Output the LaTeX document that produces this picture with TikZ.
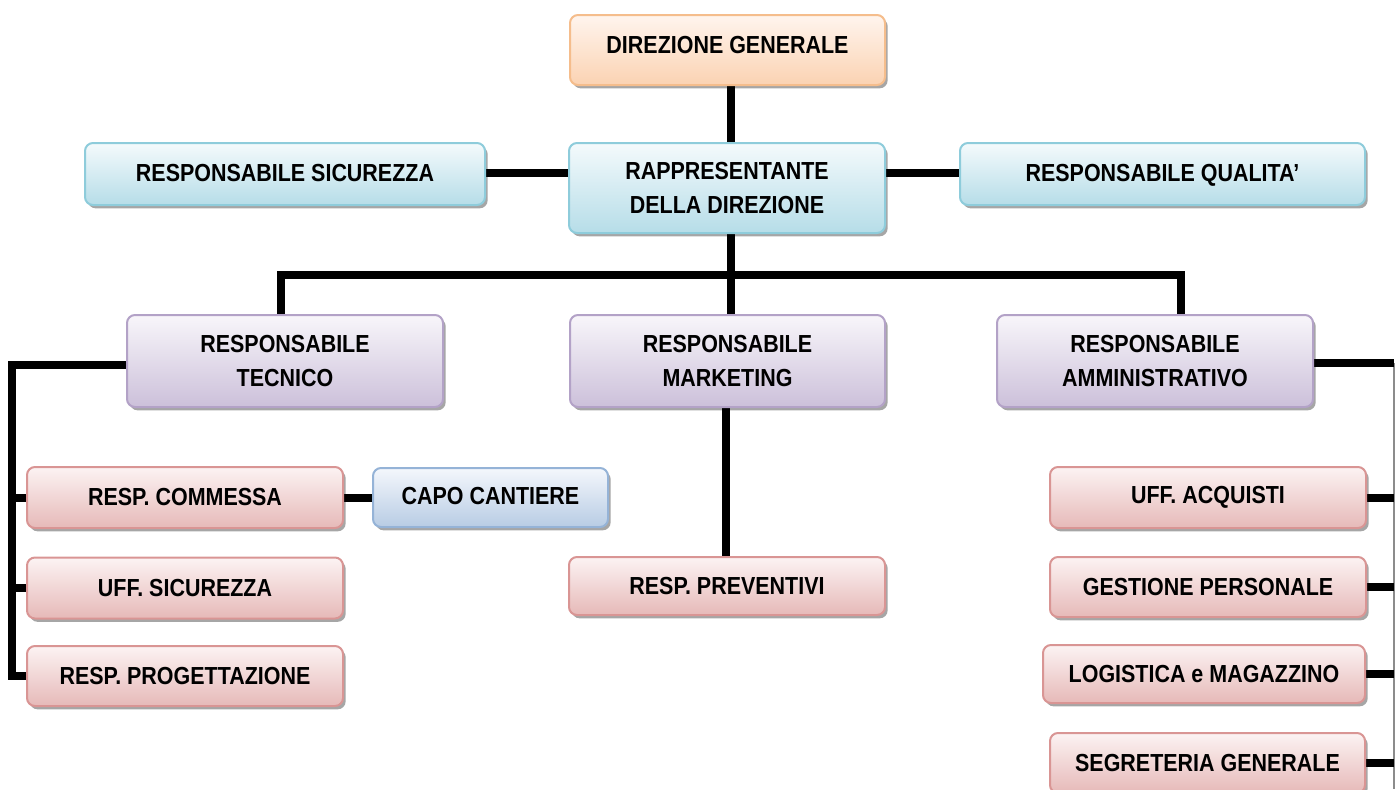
\documentclass[tikz,border=0pt]{standalone}
\usepackage{fontspec}
\setmainfont{Liberation Sans}[FakeStretch=0.87]
\usetikzlibrary{shadows,backgrounds}
\definecolor{orB}{HTML}{F5BD8C}
\definecolor{orT}{HTML}{FFF5EE}
\definecolor{orF}{HTML}{FBD2B2}
\definecolor{cyB}{HTML}{8ECCDB}
\definecolor{cyT}{HTML}{F4FAFC}
\definecolor{cyF}{HTML}{B6DDE8}
\definecolor{puB}{HTML}{B3A2C7}
\definecolor{puT}{HTML}{F8F6FA}
\definecolor{puF}{HTML}{CCC0DA}
\definecolor{reB}{HTML}{D99594}
\definecolor{reT}{HTML}{FCF3F3}
\definecolor{reF}{HTML}{E6B9B8}
\definecolor{blB}{HTML}{95B3D7}
\definecolor{blT}{HTML}{F4F7FC}
\definecolor{blF}{HTML}{B8CCE4}
\begin{document}
\begin{tikzpicture}[x=0.75pt,y=-0.75pt,
  box/.style={rectangle, rounded corners=6pt, line width=1.5pt, align=center,
    font=\fontsize{18.5}{26}\selectfont\bfseries, inner sep=0pt, text=black,
    drop shadow={shadow xshift=2pt, shadow yshift=-2.5pt, fill=black, opacity=0.35}},
  wh/.style 2 args={minimum width=#1*0.75pt, minimum height=#2*0.75pt},
  raise/.style={text height=13.2pt, text depth=#1},
  orbox/.style={box, draw=orB, top color=orT, bottom color=orF},
  cybox/.style={box, draw=cyB, top color=cyT, bottom color=cyF},
  pubox/.style={box, draw=puB, top color=puT, bottom color=puF},
  rebox/.style={box, draw=reB, top color=reT, bottom color=reF},
  blbox/.style={box, draw=blB, top color=blT, bottom color=blF},
  wire/.style={line width=6pt, black},
  thinwire/.style={line width=0.9pt, black!45}
]
\useasboundingbox (0,0) rectangle (1395,789);
\clip (0,0) rectangle (1395,789);

% top
\node[orbox, wh={315}{70}, raise=8pt] (dg) at (727.5,50) {DIREZIONE GENERALE};
\node[cybox, wh={316}{90}] (rapp) at (727,188) {RAPPRESENTANTE\\DELLA DIREZIONE};
\node[cybox, wh={400}{62}, raise=2pt] (rs) at (285,174) {RESPONSABILE SICUREZZA};
\node[cybox, wh={405}{62}, raise=2pt] (rq) at (1162.5,174) {RESPONSABILE QUALITA’};

% second level
\node[pubox, wh={316}{92}] (rt) at (285,361) {RESPONSABILE\\TECNICO};
\node[pubox, wh={315}{92}] (rm) at (727.5,361) {RESPONSABILE\\MARKETING};
\node[pubox, wh={316}{92}] (ra) at (1155,361) {RESPONSABILE\\AMMINISTRATIVO};

% left column
\node[rebox, wh={316}{61}] (rc) at (185,497.5) {RESP. COMMESSA};
\node[blbox, wh={235}{59}, raise=3pt] (cc) at (490.5,497.5) {CAPO CANTIERE};
\node[rebox, wh={316}{61}] (us) at (185,588) {UFF. SICUREZZA};
\node[rebox, wh={316}{60}] (rp) at (185,676) {RESP. PROGETTAZIONE};

% middle
\node[rebox, wh={316}{58}] (rpv) at (727,586) {RESP. PREVENTIVI};

% right column
\node[rebox, wh={316}{61}] (ua) at (1208,497.5) {UFF. ACQUISTI};
\node[rebox, wh={316}{60}] (gp) at (1208,587) {GESTIONE PERSONALE};
\node[rebox, wh={322}{58}] (lm) at (1204,674) {LOGISTICA e MAGAZZINO};
\node[rebox, wh={315}{60}] (sg) at (1207.5,763) {SEGRETERIA GENERALE};

% helper coordinates
\coordinate (bus) at (731,275);
\coordinate (bl) at (281,275);
\coordinate (br) at (1181,275);
\coordinate (mk) at (726,0);
\coordinate (lb) at (12,0);
\coordinate (rb) at (1394,0);
\coordinate (rbend) at (1394,789);

\begin{scope}[on background layer]
  \draw[wire] (dg.south -| bus) -- (rapp.north -| bus);
  \draw[wire] (rs.east |- 0,173) -- (rapp.west |- 0,173);
  \draw[wire] (rq.west |- 0,173) -- (rapp.east |- 0,173);
  \draw[wire] (rapp.south -| bus) -- (bus);
  \draw[wire] (rt.north -| bl) -- (bl) -- (br) -- (ra.north -| br);
  \draw[wire] (bus) -- (rm.north -| bus);
  \draw[wire] (rm.south -| mk) -- (rpv.north -| mk);
  % left bus
  \draw[wire] ([yshift=-3pt]rt.west) -- ([yshift=-3pt]rt.west -| lb) -- (lb |- rp.west) -- (rp.west);
  \draw[wire] (lb |- rc.west) -- (rc.west);
  \draw[wire] (lb |- us.west) -- (us.west);
  \draw[wire] (rc.east) -- (cc.west);
  % right bus
  \draw[thinwire] ([yshift=-1.5pt]ra.east -| rb) -- (rbend);
  \draw[wire] ([yshift=-1.5pt]ra.east) -- ([yshift=-1.5pt]ra.east -| rb);
  \draw[wire] (ua.east) -- (ua.east -| rb);
  \draw[wire] (gp.east) -- (gp.east -| rb);
  \draw[wire] (lm.east) -- (lm.east -| rb);
  \draw[wire] (sg.east) -- (sg.east -| rb);
\end{scope}
\end{tikzpicture}
\end{document}
